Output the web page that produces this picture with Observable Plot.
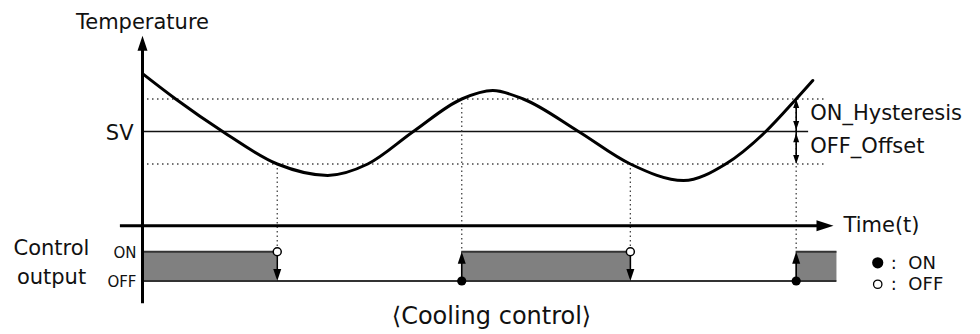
<!DOCTYPE html>
<html><head><meta charset="utf-8">
<script src="https://cdn.jsdelivr.net/npm/d3@7"></script>
<script src="https://cdn.jsdelivr.net/npm/@observablehq/plot@0.6"></script>
<style>body{margin:0;background:#fff} svg{display:block}</style>
</head><body><div id="chart"></div>
<script>
// Temperature curve: time t (0..100 along the time axis), temperature relative to SV (in hysteresis units)
const curveTime = [0, 4.8, 11.6, 19.5, 26.8, 32.6, 39.2, 46.2, 50.7, 55.1, 63.1, 70.6, 78.3, 84.4, 90.2, 94.6, 97.0];
const curveTemp = [1.78, 1, 0, -1, -1.35, -1, 0, 1, 1.26, 1, 0, -1, -1.51, -1, 0, 1, 1.57];
const SV = 0, ON_HYSTERESIS = 1, OFF_OFFSET = 1;
const switchOffTimes = [19.5, 70.6];
const switchOnTimes = [46.2, 94.6];
const outputStart = [0, 46.2, 94.6];
const outputEnd = [19.5, 70.6, 100.5];
const levelLabels = ["ON", "OFF"];
const legendLabels = [":  ON", ":  OFF"];
const labelTemperature = "Temperature", labelTime = "Time(t)", labelSV = "SV";
const labelHys = "ON_Hysteresis", labelOfs = "OFF_Offset";
const labelControl = ["Control", "output"];
const caption = "\u27E8Cooling control\u27E9";

// layout levels (same y units)
const TIME_AXIS_Y = -2.9, OUT_ON = -3.7, OUT_OFF = -4.6, Y_MIN = -5.3, Y_TIP = 2.95;
const X_END = 100, X_START = -3.2, LINE_END = 98.8, SV_END = 96.4;
const LEGEND_X = 106.4, LEGEND_TX = 108.3, LEGEND_Y = [-4.04, -4.7];

const curve = curveTime.map((t, i) => ({t, v: curveTemp[i]}));
const outputs = outputStart.map((s, i) => ({s, e: outputEnd[i]}));
const FONT = "DejaVu Sans";

function tri(dir, len, wid) {
  const h = wid / 2;
  return {draw(ctx) {
    ctx.moveTo(0, 0);
    if (dir === "up") { ctx.lineTo(h, len); ctx.lineTo(-h, len); }
    else if (dir === "down") { ctx.lineTo(h, -len); ctx.lineTo(-h, -len); }
    else { ctx.lineTo(-len, h); ctx.lineTo(-len, -h); }
    ctx.closePath();
  }};
}
const blackTri = (data, opts) => Plot.dot(data, {fill: "black", stroke: "none", ...opts});

const txt = {fontFamily: FONT, fill: "#111", fontSize: 21, letterSpacing: 0.3};

const chart = Plot.plot({
  width: 980, height: 334,
  marginLeft: 142, marginRight: 147, marginTop: 33.5, marginBottom: 30.75,
  x: {domain: [0, 100], axis: null},
  y: {domain: [Y_MIN, 3], axis: null},
  style: {background: "white", overflow: "visible"},
  marks: [
    // threshold dotted lines
    Plot.ruleY([SV + ON_HYSTERESIS, SV - OFF_OFFSET], {x1: 0, x2: LINE_END, stroke: "#444", strokeWidth: 1.3, strokeDasharray: "1.5,3.5"}),
    Plot.ruleY([SV], {x1: 0, x2: SV_END, stroke: "#111", strokeWidth: 1.4}),
    // vertical dotted guides
    Plot.ruleX(switchOffTimes, {y1: SV - OFF_OFFSET, y2: OUT_ON, stroke: "#444", strokeWidth: 1.3, strokeDasharray: "1.5,3"}),
    Plot.ruleX(switchOnTimes, {y1: SV + ON_HYSTERESIS, y2: OUT_ON, stroke: "#444", strokeWidth: 1.3, strokeDasharray: "1.5,3"}),
    // control output bars
    Plot.rect(outputs, {x1: "s", x2: "e", y1: OUT_OFF, y2: OUT_ON, fill: "#808080"}),
    Plot.ruleY(outputs, {y: OUT_ON, x1: "s", x2: "e", stroke: "#333", strokeWidth: 2}),
    Plot.ruleY([OUT_OFF], {x1: 0, x2: outputEnd[outputEnd.length - 1], stroke: "#333", strokeWidth: 2}),
    // switching arrows
    Plot.ruleX(switchOffTimes, {y1: OUT_ON, y2: OUT_OFF + 0.2, stroke: "black", strokeWidth: 1.6}),
    Plot.ruleX(switchOnTimes, {y1: OUT_OFF, y2: OUT_ON - 0.2, stroke: "black", strokeWidth: 1.6}),
    blackTri(switchOffTimes, {x: d => d, y: OUT_OFF, symbol: tri("down", 12, 8)}),
    blackTri(switchOnTimes, {x: d => d, y: OUT_ON, symbol: tri("up", 12, 8)}),
    Plot.dot(switchOffTimes, {x: d => d, y: OUT_ON, r: 4, fill: "white", stroke: "black", strokeWidth: 1.5}),
    Plot.dot(switchOnTimes, {x: d => d, y: OUT_OFF, r: 4.6, fill: "black", stroke: "none"}),
    // axes
    Plot.ruleX([0], {y1: Y_MIN, y2: Y_TIP - 0.3, stroke: "black", strokeWidth: 3}),
    blackTri([0], {x: 0, y: Y_TIP, symbol: tri("up", 15, 10)}),
    Plot.ruleY([TIME_AXIS_Y], {x1: X_START, x2: X_END - 1.5, stroke: "black", strokeWidth: 3}),
    blackTri([0], {x: X_END, y: TIME_AXIS_Y, symbol: tri("right", 17, 11)}),
    // temperature curve
    Plot.line(curve, {x: "t", y: "v", curve: "monotone-x", stroke: "black", strokeWidth: 3}),
    // hysteresis / offset double arrows
    Plot.ruleX([switchOnTimes[1]], {y1: SV + ON_HYSTERESIS - 0.1, y2: SV - OFF_OFFSET + 0.1, stroke: "black", strokeWidth: 1.6}),
    blackTri([SV + ON_HYSTERESIS, SV - 0.05], {x: switchOnTimes[1], y: d => d, symbol: tri("up", 9, 6)}),
    blackTri([SV + 0.05, SV - OFF_OFFSET], {x: switchOnTimes[1], y: d => d, symbol: tri("down", 9, 6)}),
    // labels
    Plot.text([labelTemperature], {x: 0, y: 3.37, text: d => d, textAnchor: "middle", ...txt, letterSpacing: 0.5}),
    Plot.text([labelSV], {x: 0, y: SV, dx: -9, dy: 1.5, text: d => d, textAnchor: "end", ...txt}),
    Plot.text([labelTime], {x: X_END, y: TIME_AXIS_Y, dx: 10, dy: 0, text: d => d, textAnchor: "start", ...txt}),
    Plot.text([labelHys], {x: switchOnTimes[1], y: SV + ON_HYSTERESIS / 2, dx: 14, dy: -1.5, text: d => d, textAnchor: "start", ...txt}),
    Plot.text([labelOfs], {x: switchOnTimes[1], y: SV - OFF_OFFSET / 2, dx: 14, dy: -1, text: d => d, textAnchor: "start", ...txt}),
    Plot.text([labelControl[0]], {x: 0, y: OUT_ON, dx: -91, dy: -3, text: d => d, textAnchor: "middle", ...txt, letterSpacing: 1}),
    Plot.text([labelControl[1]], {x: 0, y: OUT_OFF, dx: -91, dy: -4, text: d => d, textAnchor: "middle", ...txt, letterSpacing: 1}),
    Plot.text([levelLabels[0]], {x: 0, y: OUT_ON, dx: -6, dy: 1.5, text: d => d, textAnchor: "end", ...txt, fontSize: 15, letterSpacing: 0.8}),
    Plot.text([levelLabels[1]], {x: 0, y: OUT_OFF, dx: -6, dy: 1, text: d => d, textAnchor: "end", ...txt, fontSize: 15, letterSpacing: 0.8}),
    // legend
    Plot.dot([0], {x: LEGEND_X, y: LEGEND_Y[0], r: 5.6, fill: "black", stroke: "none"}),
    Plot.dot([0], {x: LEGEND_X, y: LEGEND_Y[1], r: 4.2, fill: "white", stroke: "black", strokeWidth: 1.3}),
    Plot.text([legendLabels[0]], {x: LEGEND_TX, y: LEGEND_Y[0], text: d => d, textAnchor: "start", ...txt, fontSize: 18, letterSpacing: 0.5}),
    Plot.text([legendLabels[1]], {x: LEGEND_TX, y: LEGEND_Y[1], text: d => d, textAnchor: "start", ...txt, fontSize: 18, letterSpacing: 0.5}),
    // caption
    Plot.text([caption], {frameAnchor: "bottom", dx: 3.5, dy: 20, text: d => d, textAnchor: "middle", ...txt, fontSize: 24, letterSpacing: 2.4})
  ]
});
chart.querySelectorAll("text").forEach(t => t.setAttribute("xml:space", "preserve"));
document.getElementById("chart").append(chart);
</script>
</body></html>
